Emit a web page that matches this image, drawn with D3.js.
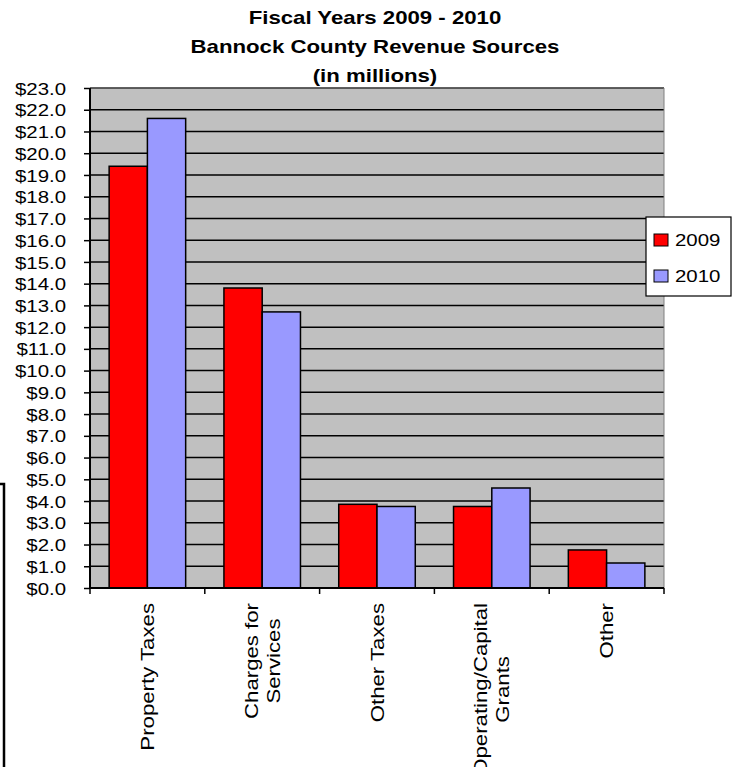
<!DOCTYPE html>
<html>
<head>
<meta charset="utf-8">
<script src="https://cdn.jsdelivr.net/npm/d3@7"></script>
<style>
  body { margin: 0; background: #fff; }
  svg text { font-family: "Liberation Sans", Arial, sans-serif; fill: #000; }
</style>
</head>
<body>
<div id="chart"></div>
<script>
const categories = [
  ["Property Taxes"],
  ["Charges for", "Services"],
  ["Other Taxes"],
  ["Operating/Capital", "Grants"],
  ["Other"]
];
const years = ["2009", "2010"];
const values2009 = [19.4, 13.8, 3.85, 3.75, 1.75];
const values2010 = [21.6, 12.7, 3.75, 4.6, 1.15];
const yTicks = d3.range(0, 24, 1);
const titleLines = ["Fiscal Years 2009 - 2010", "Bannock County Revenue Sources", "(in millions)"];
const colors = { "2009": "#ff0000", "2010": "#9999ff" };

const width = 740, height = 767;
const margin = { top: 88, right: 76, bottom: 179, left: 90 };
const innerW = width - margin.left - margin.right;
const innerH = height - margin.top - margin.bottom;

// the original text is drawn a bit wide, stretch glyphs along the baseline
const STRETCH = 1.2;
function widen(sel) {
  sel.each(function () {
    const len = this.getComputedTextLength();
    d3.select(this)
      .attr("textLength", len * STRETCH)
      .attr("lengthAdjust", "spacingAndGlyphs");
  });
}

const svg = d3.select("#chart").append("svg")
  .attr("width", width)
  .attr("height", height);

// title
svg.append("g").selectAll("text")
  .data(titleLines)
  .enter().append("text")
  .attr("x", 375)
  .attr("y", (d, i) => 24 + i * 29)
  .attr("text-anchor", "middle")
  .attr("font-size", 18.5)
  .attr("font-weight", "bold")
  .text(d => d)
  .call(widen);

const g = svg.append("g").attr("transform", `translate(${margin.left},${margin.top})`);

const x0 = d3.scaleBand().domain(d3.range(categories.length)).range([0, innerW]).padding(0);
const x1 = d3.scaleBand().domain(years).range([0, x0.bandwidth()]).paddingInner(0).paddingOuter(0.5);
const y = d3.scaleLinear().domain([0, 23]).range([innerH, 0]);

// plot background
g.append("rect")
  .attr("width", innerW)
  .attr("height", innerH)
  .attr("fill", "#c0c0c0");

// gridlines
g.append("g").selectAll("line")
  .data(yTicks.filter(t => t > 0))
  .enter().append("line")
  .attr("x1", 0).attr("x2", innerW)
  .attr("y1", d => y(d)).attr("y2", d => y(d))
  .attr("stroke", "#000")
  .attr("stroke-width", 1.5);

// plot border (top and right)
g.append("path")
  .attr("d", `M0,0H${innerW}V${innerH}`)
  .attr("fill", "none")
  .attr("stroke", "#808080")
  .attr("stroke-width", 1);

// bars
const data = categories.map((c, i) => ({ i, vals: [values2009[i], values2010[i]] }));
const groups = g.append("g").selectAll("g")
  .data(data)
  .enter().append("g")
  .attr("transform", d => `translate(${x0(d.i)},0)`);

groups.selectAll("rect")
  .data(d => d.vals.map((v, k) => ({ year: years[k], v })))
  .enter().append("rect")
  .attr("x", d => x1(d.year))
  .attr("width", x1.bandwidth())
  .attr("y", d => y(d.v))
  .attr("height", d => innerH - y(d.v))
  .attr("fill", d => colors[d.year])
  .attr("stroke", "#000")
  .attr("stroke-width", 1.5);

// y axis
const yAxis = g.append("g")
  .call(d3.axisLeft(y).tickValues(yTicks).tickSize(6).tickPadding(19).tickFormat(d => "$" + d3.format(".1f")(d)));
yAxis.select(".domain").attr("stroke", "#000").attr("stroke-width", 2).attr("d", `M0,0V${innerH}`);
yAxis.selectAll(".tick line").attr("stroke", "#000").attr("stroke-width", 1.5);
yAxis.selectAll(".tick text")
  .attr("font-size", 17)
  .attr("x", -24)
  .attr("dy", "0.36em")
  .call(widen);

// x axis
const xAxisG = g.append("g").attr("transform", `translate(0,${innerH})`);
xAxisG.append("line")
  .attr("x1", 0).attr("x2", innerW)
  .attr("stroke", "#000").attr("stroke-width", 2);
xAxisG.selectAll(".xt")
  .data(d3.range(categories.length + 1))
  .enter().append("line")
  .attr("x1", d => d * x0.step()).attr("x2", d => d * x0.step())
  .attr("y1", 0).attr("y2", 6)
  .attr("stroke", "#000").attr("stroke-width", 1.5);

// x labels, rotated, lines centred, block top at the axis
const lineGap = 22;
xAxisG.selectAll(".xl")
  .data(categories)
  .enter().append("g")
  .attr("class", "xl")
  .each(function (lines, i) {
    const lg = d3.select(this);
    const rot = lg.append("g").attr("transform", "rotate(-90)");
    const texts = rot.selectAll("text")
      .data(lines)
      .enter().append("text")
      .attr("text-anchor", "middle")
      .attr("font-size", 18.5)
      .attr("x", 0)
      .attr("y", (d, k) => (k - (lines.length - 1) / 2) * lineGap)
      .attr("dy", "0.36em")
      .text(d => d)
      .call(widen);
    // textLength is already applied, so this is the stretched length
    const len = d3.max(texts.nodes(), n => +n.getAttribute("textLength"));
    const cx = x0(i) + x0.bandwidth() / 2;
    lg.attr("transform", `translate(${cx},${15 + len / 2})`);
  });

// legend
const legend = svg.append("g").attr("transform", "translate(646,217)");
legend.append("rect")
  .attr("width", 85).attr("height", 79)
  .attr("fill", "#fff").attr("stroke", "#000").attr("stroke-width", 1.2);
const li = legend.selectAll(".li")
  .data(years)
  .enter().append("g")
  .attr("transform", (d, i) => `translate(8,${23 + i * 36})`);
li.append("rect")
  .attr("width", 14).attr("height", 12)
  .attr("y", -6)
  .attr("fill", d => colors[d])
  .attr("stroke", "#000").attr("stroke-width", 1);
li.append("text")
  .attr("x", 21)
  .attr("dy", "0.36em")
  .attr("font-size", 17)
  .text(d => d)
  .call(widen);

// stray frame edge at left
svg.append("path")
  .attr("d", "M0,484H4V767")
  .attr("fill", "none")
  .attr("stroke", "#000")
  .attr("stroke-width", 2.5);
</script>
</body>
</html>
